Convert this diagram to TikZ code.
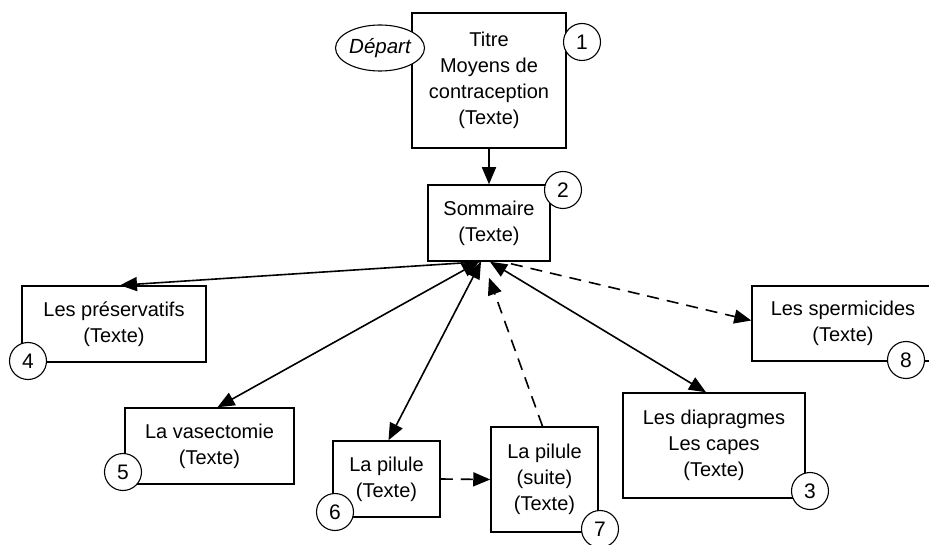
\documentclass[tikz,border=0pt]{standalone}
\usepackage{fontspec}
\setmainfont{Liberation Sans}
\usetikzlibrary{arrows.meta,shapes.geometric,calc}
\begin{document}
\begin{tikzpicture}[x=1pt,y=-1pt,
  box/.style={draw,line width=1.5pt,align=center,inner sep=0pt,fill=white,
    font=\fontsize{20}{26}\selectfont},
  num/.style={draw,circle,line width=1.1pt,minimum size=37pt,inner sep=0pt,fill=white,
    font=\fontsize{21}{24}\selectfont},
  conn/.style={line width=1.6pt,-{Triangle[length=17pt,width=14pt]}},
  dconn/.style={conn,dash pattern=on 12pt off 8pt},
  both/.style={line width=1.6pt,{Triangle[length=17pt,width=14pt]}-{Triangle[length=17pt,width=14pt]}}
]
\useasboundingbox (0,0) rectangle (929,545);
\begin{scope}
\clip (0,0) rectangle (929,545);
% boxes
\node[box,minimum width=154pt,minimum height=135pt] (b1) at (489,80.5) {Titre\\Moyens de\\contraception\\(Texte)};
\node[box,minimum width=122pt,minimum height=76pt] (b2) at (489,223) {Sommaire\\(Texte)};
\node[box,minimum width=184pt,minimum height=76pt] (b4) at (114,324) {Les préservatifs\\(Texte)};
\node[box,minimum width=169pt,minimum height=76pt] (b5) at (209.5,446) {La vasectomie\\(Texte)};
\node[box,minimum width=107pt,minimum height=76pt] (b6) at (386.5,479) {La pilule\\(Texte)};
\node[box,minimum width=107pt,minimum height=105pt] (b7) at (544.5,479.5) {La pilule\\(suite)\\(Texte)};
\node[box,minimum width=182pt,minimum height=75pt] (b8) at (843,323.5) {Les spermicides\\(Texte)};
\node[box,minimum width=182pt,minimum height=105pt] (b3) at (714,445.5) {Les diapragmes\\Les capes\\(Texte)};
% start ellipse
\node[draw,ellipse,line width=1.1pt,minimum width=89pt,minimum height=46pt,inner sep=0pt,fill=white,
  font=\fontsize{20.5}{24}\selectfont\itshape] (dep) at (380,48) {Départ};
% number circles
\node[num] (n1) at (582,42) {1};
\node[num] (n2) at (563,190) {2};
\node[num] (n4) at (28,361) {4};
\node[num] (n5) at (123,472) {5};
\node[num] (n6) at (335,512) {6};
\node[num] (n7) at (600,529) {7};
\node[num] (n8) at (906,360) {8};
\node[num] (n3) at (810,491) {3};
% connectors
\draw[conn] (b1.south) -- (b2.north);
\draw[conn] ($(b2.south)+(-8,0)$) -- ($(b4.north)+(6,0)$);
\draw[both] ($(b5.north)+(8,0)$) -- ($(b2.south)+(-10,0)$);
\draw[both] ($(b6.north)+(2,0)$) -- ($(b2.south)+(-8,0)$);
\draw[both] ($(b3.north)+(-8,0)$) -- ($(b2.south)+(1,0)$);
\draw[dconn] ($(b7.north)+(-2,0)$) -- ($(b2.south)+(0,16)$);
\draw[dconn] ($(b2.south)+(22,2)$) -- ($(b8.west)+(0,-3)$);
\draw[dconn] (b6.east) -- (b7.west);
\end{scope}
\end{tikzpicture}
\end{document}
